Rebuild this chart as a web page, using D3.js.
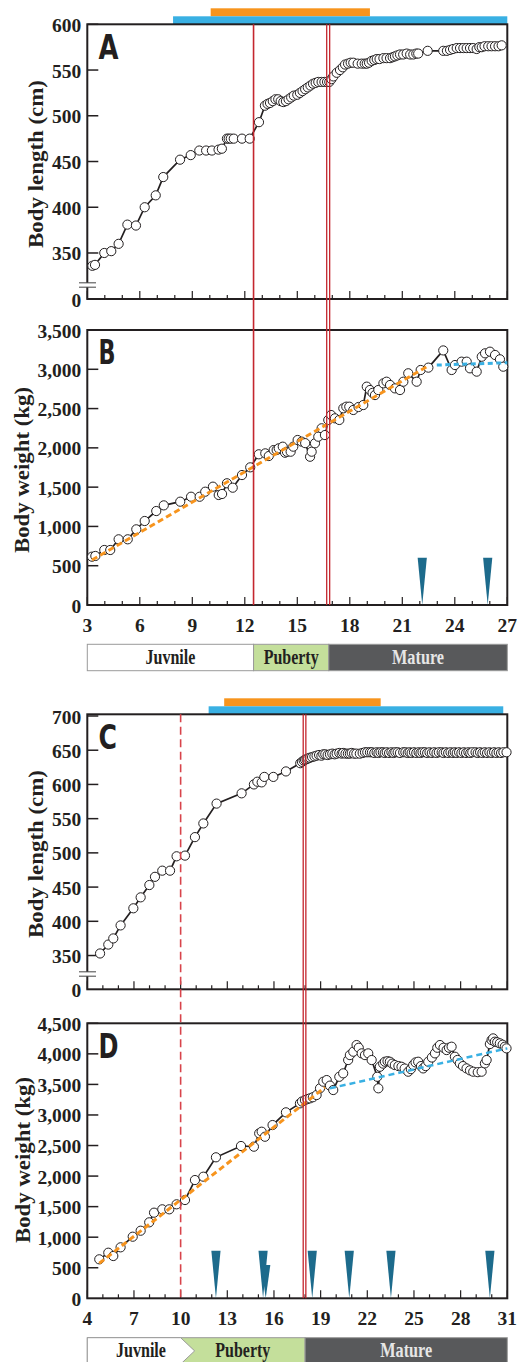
<!DOCTYPE html>
<html><head><meta charset="utf-8">
<script src="https://cdn.jsdelivr.net/npm/d3@7"></script>
<style>body{margin:0;background:#fff}svg{display:block}</style>
</head><body>
<svg id="chart" width="517" height="1362"></svg>
<script>
// ---------------- DATA ----------------
// Panel A: body length (cm) vs age (years)
const aAge = [3.29,3.44,3.97,4.37,4.79,5.29,5.78,6.28,6.91,7.34,8.30,8.91,9.40,9.79,10.12,10.50,10.69,10.98,11.08,11.20,11.37,11.84,12.28,12.81,13.15,13.30,13.44,13.60,13.75,13.91,14.05,14.20,14.35,14.50,14.65,14.80,15.00,15.15,15.30,15.45,15.60,15.75,15.90,16.05,16.20,16.39,16.55,16.70,16.83,16.95,17.06,17.25,17.44,17.60,17.73,17.90,18.05,18.20,18.45,18.68,18.85,18.97,19.10,19.25,19.40,19.54,19.70,19.92,20.10,20.30,20.45,20.58,20.72,20.87,21.05,21.25,21.45,21.63,21.80,21.91,22.45,23.34,23.55,23.73,23.90,24.11,24.30,24.49,24.68,24.87,25.05,25.25,25.40,25.54,25.70,25.91,26.10,26.30,26.50,26.68];
const aLength = [336,337,350,352,360,381,380,400,413,433,452,457,462,462,462,463,464,475,475,475,475,475,475,493,511,513,514,516,518,518,516,515,516,518,520,522,523,525,527,529,531,533,535,536,537,537,537,537,537,540,543,547,550,553,556,557,558,558,557,557,557,557,558,560,561,562,562,563,563,563,564,565,566,567,567,568,567,567,568,568,571,571,571,572,573,574,574,574,574,574,574,573,575,575,576,576,576,576,576,577];

// Panel B: body weight (kg) vs age
const bAge = [3.27,3.46,3.97,4.31,4.79,5.31,5.80,6.28,6.94,7.37,8.31,8.93,9.42,9.74,10.18,10.51,10.70,10.98,11.31,11.84,12.31,12.80,13.17,13.37,13.65,13.82,13.94,14.17,14.30,14.41,14.62,14.77,15.02,15.25,15.45,15.73,15.82,16.01,16.20,16.39,16.58,16.77,16.93,17.15,17.40,17.63,17.80,17.97,18.20,18.50,18.77,18.97,19.15,19.30,19.44,19.63,19.92,20.10,20.30,20.58,20.87,21.06,21.34,21.82,22.05,22.49,23.34,23.82,24.01,24.39,24.68,24.87,25.25,25.54,25.73,26.01,26.30,26.58,26.77];
const bWeight = [615,624,700,700,836,836,963,1069,1196,1268,1315,1378,1378,1442,1506,1400,1413,1549,1493,1654,1752,1918,1930,1896,1972,1972,1994,2015,1938,1950,1951,2015,2100,2079,2060,1887,1951,2058,2142,2249,2163,2355,2418,2376,2355,2503,2524,2524,2482,2520,2545,2779,2736,2700,2672,2736,2821,2842,2800,2757,2736,2842,2949,2842,2991,3021,3240,2991,3054,3097,3097,3012,2970,3160,3203,3224,3182,3127,3033];
const bOrangeAge = [3.27,22.5];
const bOrangeWeight = [573,3046];
const bBlueAge = [22.97,27];
const bBlueWeight = [3054,3083];
const bArrowAge = [22.14,25.88];
const bArrowTop = [600,600];

// Panel C: body length (cm) vs age
const cAge = [4.82,5.35,5.67,6.14,6.96,7.43,7.99,8.35,8.82,9.32,9.74,10.28,10.92,11.46,12.31,13.92,14.71,14.93,15.21,15.38,15.96,16.77,17.69,17.80,17.91,18.00,18.10,18.20,18.31,18.45,18.60,18.74,18.90,19.05,19.17,19.30,19.45,19.60,19.75,19.90,20.03,20.20,20.35,20.45,20.60,20.75,20.88,21.00,21.15,21.30,21.52,21.70,21.85,22.00,22.17,22.30,22.45,22.60,22.72,22.85,23.00,23.12,23.25,23.40,23.55,23.68,23.80,23.95,24.10,24.31,24.45,24.60,24.72,24.85,25.00,25.15,25.30,25.42,25.55,25.70,25.85,26.00,26.15,26.30,26.45,26.60,26.78,26.90,27.05,27.20,27.35,27.50,27.62,27.75,27.90,28.05,28.20,28.35,28.50,28.62,28.75,28.96,29.10,29.25,29.40,29.55,29.70,29.85,30.00,30.15,30.30,30.45,30.60,30.75,30.95];
const cLength = [353,366,375,394,419,435,453,465,474,474,495,496,523,543,572,587,600,604,603,611,611,619,631,633,635,636,637,638,639,640,641,642,643,642,644,644,643,644,645,644,645,646,645,646,645,645,645,646,645,645,645,646,647,647,647,647,646,647,646,647,647,646,647,646,647,646,647,647,646,647,647,646,647,646,647,646,647,646,647,647,646,647,646,647,646,647,647,646,647,646,647,646,647,646,647,646,647,646,647,646,647,647,646,647,646,647,646,647,646,647,646,647,646,647,647];

// Panel D: body weight (kg) vs age
const dAge = [4.77,5.35,5.67,6.14,6.92,7.43,7.98,8.29,8.82,9.27,9.74,10.28,10.92,11.46,12.27,13.88,14.71,15.05,15.21,15.42,15.91,16.77,17.67,17.80,17.99,18.15,18.31,18.50,18.74,18.96,19.17,19.39,19.60,19.81,20.20,20.45,20.77,20.88,21.10,21.31,21.45,21.64,21.85,22.06,22.28,22.64,22.71,22.81,23.02,23.13,23.30,23.45,23.60,23.77,24.00,24.20,24.40,24.63,24.80,24.95,25.10,25.27,25.45,25.59,25.75,25.92,26.15,26.35,26.50,26.67,26.90,27.10,27.25,27.42,27.63,27.80,27.95,28.15,28.38,28.60,28.81,29.10,29.35,29.56,29.67,29.88,29.99,30.09,30.20,30.35,30.52,30.70,30.84,30.95];
const dWeight = [638,746,692,834,1008,1106,1243,1401,1456,1456,1538,1608,1935,1990,2307,2492,2481,2699,2726,2644,2835,3043,3190,3220,3244,3260,3272,3290,3326,3436,3544,3571,3480,3408,3625,3681,3899,3980,4035,4144,4100,4008,3980,4008,3899,3625,3436,3789,3840,3871,3880,3871,3840,3817,3800,3789,3760,3708,3750,3817,3860,3871,3800,3762,3800,3871,3940,4008,4100,4144,4100,4062,4100,4117,3953,3900,3844,3800,3762,3730,3708,3700,3708,3844,3899,4160,4226,4253,4199,4190,4172,4150,4117,4090];
const dOrangeAge = [4.77,19.28];
const dOrangeWeight = [573,3452];
const dBlueAge = [19.6,31];
const dBlueWeight = [3436,4090];
const dArrowAge = [12.27,15.30,15.47,18.46,20.84,23.52,29.88];
const dArrowTop = [780,780,545,780,780,780,780];

// Event markers (ages)
const abRedSingle = [12.5];
const abRedDouble = [16.68,16.85];
const cdRedDashed = [10];
const cdRedDouble = [17.88,18.05];
// Top bars (age ranges)
const abOrangeBar = [10.05,19.15];
const abBlueBar = [7.9,27];
const cdOrangeBar = [12.8,22.86];
const cdBlueBar = [11.8,30.74];
// Stages
const stageNames = ["Juvnile","Puberty","Mature"];
const abStageStart = [3,12.5,16.8];
const abStageEnd = [12.5,16.8,27];
const cdStageStart = [4,10,18];
const cdStageEnd = [10,18,31];
// Tick labels
const yTicksA = [0,350,400,450,500,550,600];
const yTicksB = [0,500,1000,1500,2000,2500,3000,3500];
const yTicksC = [0,350,400,450,500,550,600,650,700];
const yTicksD = [0,500,1000,1500,2000,2500,3000,3500,4000,4500];
const xTicksAB = [3,6,9,12,15,18,21,24,27];
const xTicksCD = [4,7,10,13,16,19,22,25,28,31];

// ---------------- DRAW ----------------
const svg = d3.select("#chart");
const INK = "#231f20", RED = "#c4262e", ORANGE = "#f7941d", BLUE = "#39b0e3", TEAL = "#1d6b8c";
const SERIF = "'Liberation Serif','Times New Roman',serif";
const L = 87.3, R = 507.3;
const xAB = d3.scaleLinear().domain([3,27]).range([L,R]);
const xCD = d3.scaleLinear().domain([4,31]).range([L,R]);
const yA = d3.scaleLinear().domain([0,315,600]).range([299,285,24.3]);
const yB = d3.scaleLinear().domain([0,3500]).range([605,330]);
const yC = d3.scaleLinear().domain([0,323,700]).range([989.3,974,716]);
const yD = d3.scaleLinear().domain([0,4500]).range([1298.3,1023.3]);
const comma = d3.format(",");

function frame(top,bottom){
  svg.append("rect").attr("x",L).attr("y",top).attr("width",R-L).attr("height",bottom-top)
    .attr("fill","none").attr("stroke",INK).attr("stroke-width",2);
}
function yAxis(y, ticks, fmt, brk){
  const g = svg.append("g");
  g.selectAll("line").data(ticks.filter(t=>t>0)).join("line")
    .attr("x1",L).attr("x2",L+11).attr("y1",d=>y(d)).attr("y2",d=>y(d))
    .attr("stroke",INK).attr("stroke-width",1.5);
  g.selectAll("text").data(ticks).join("text")
    .attr("x",L-6).attr("y",d=>y(d)+7.5).attr("text-anchor","end")
    .attr("font-family",SERIF).attr("font-weight","bold").attr("font-size",19.5).attr("fill",INK)
    .text(d=>fmt(d));
  if(brk){
    const yb = y(brk);
    svg.append("rect").attr("x",L-2).attr("y",yb-2).attr("width",4).attr("height",4).attr("fill","#fff");
    [yb-2.2,yb+2.2].forEach(v=>svg.append("line").attr("x1",79).attr("x2",96).attr("y1",v).attr("y2",v)
      .attr("stroke","#555").attr("stroke-width",1.1));
  }
}
function xTicks(x, lo, hi, majors, bottom, labels){
  const g = svg.append("g");
  g.selectAll("line").data(d3.range(lo,hi+1)).join("line")
    .attr("x1",d=>x(d)).attr("x2",d=>x(d)).attr("y1",bottom)
    .attr("y2",d=>bottom-(majors.includes(d)?8:4)).attr("stroke",INK).attr("stroke-width",1.2);
  if(labels){
    g.selectAll("text").data(majors).join("text")
      .attr("x",d=>x(d)).attr("y",bottom+26.7).attr("text-anchor","middle")
      .attr("font-family",SERIF).attr("font-weight","bold").attr("font-size",19.5).attr("fill",INK)
      .text(d=>d);
  }
}
function series(x,y,ages,vals){
  const pts = ages.map((a,i)=>[a,vals[i]]);
  svg.append("path").datum(pts).attr("fill","none").attr("stroke",INK).attr("stroke-width",1.7)
    .attr("d",d3.line().x(d=>x(d[0])).y(d=>y(d[1])));
  svg.append("g").selectAll("circle").data(pts).join("circle")
    .attr("cx",d=>x(d[0])).attr("cy",d=>y(d[1])).attr("r",4.6)
    .attr("fill","#fff").attr("stroke",INK).attr("stroke-width",1);
}
function fit(x,y,ages,vals,color,dash,w){
  svg.append("path").datum(ages.map((a,i)=>[a,vals[i]])).attr("fill","none")
    .attr("stroke",color).attr("stroke-width",w).attr("stroke-dasharray",dash)
    .attr("d",d3.line().x(d=>x(d[0])).y(d=>y(d[1])));
}
function arrows(x,y,ages,tops){
  svg.append("g").selectAll("path").data(ages.map((a,i)=>[a,tops[i]])).join("path")
    .attr("fill",TEAL)
    .attr("d",d=>`M${x(d[0])-4.6},${y(d[1])}L${x(d[0])+4.6},${y(d[1])}L${x(d[0])},${y(0)}Z`);
}
function vlines(x, ages, top, bottom, dash, w, color){
  ages.forEach(a=>svg.append("line").attr("x1",x(a)).attr("x2",x(a)).attr("y1",top).attr("y2",bottom)
    .attr("stroke",color).attr("stroke-width",w).attr("stroke-dasharray",dash||null));
}
function topBars(x, orange, blue, top){
  svg.append("rect").attr("x",x(orange[0])).attr("y",top-16).attr("width",x(orange[1])-x(orange[0])).attr("height",8).attr("fill",ORANGE);
  svg.append("rect").attr("x",x(blue[0])).attr("y",top-8).attr("width",x(blue[1])-x(blue[0])).attr("height",8).attr("fill",BLUE);
}
function letter(t, top, w){
  svg.append("text").attr("x",98.5).attr("y",top+34.3).text(t)
    .attr("font-family","'Liberation Sans Narrow','DejaVu Sans Condensed','Liberation Sans',sans-serif")
    .attr("font-weight","bold").attr("font-size",34.5).attr("fill",INK)
    .attr("textLength",w).attr("lengthAdjust","spacingAndGlyphs");
}
function yTitle(t, cx, cy, len){
  svg.append("text").attr("transform",`translate(${cx},${cy}) rotate(-90)`)
    .attr("text-anchor","middle").attr("dominant-baseline","central")
    .attr("font-family",SERIF).attr("font-weight","bold").attr("font-size",20.5).attr("fill",INK)
    .attr("textLength",len).attr("lengthAdjust","spacingAndGlyphs").text(t);
}
const stageFill = ["#ffffff","#c4df9b","#58595b"];
const stageText = [INK, INK, "#e6e6e6"];
const stageLen = [50,55,52];
function stages(x, starts, ends, top, h, arrow){
  const g = svg.append("g");
  if(!arrow){
    g.selectAll("rect").data(stageNames).join("rect")
      .attr("x",(d,i)=>x(starts[i])).attr("y",top).attr("width",(d,i)=>x(ends[i])-x(starts[i])).attr("height",h)
      .attr("fill",(d,i)=>stageFill[i]).attr("stroke","#9a9a9a").attr("stroke-width",1);
    g.selectAll("text").data(stageNames).join("text")
      .attr("x",(d,i)=>(x(starts[i])+x(ends[i]))/2).attr("y",top+h/2+6.5).attr("text-anchor","middle")
      .attr("font-family",SERIF).attr("font-weight","bold").attr("font-size",20)
      .attr("fill",(d,i)=>stageText[i]).attr("textLength",(d,i)=>stageLen[i]).attr("lengthAdjust","spacingAndGlyphs")
      .text(d=>d);
  } else {
    const x0=x(starts[0]), x1=x(ends[0]), x2=x(ends[1]), x3=x(ends[2]), tip=x1+14, mid=top+h/2;
    g.append("rect").attr("x",x0).attr("y",top).attr("width",x2-x0).attr("height",h).attr("fill",stageFill[1]).attr("stroke","#9a9a9a");
    g.append("rect").attr("x",x2).attr("y",top).attr("width",x3-x2).attr("height",h).attr("fill",stageFill[2]).attr("stroke","#9a9a9a");
    g.append("path").attr("d",`M${x0},${top}L${x1},${top}L${tip},${mid}L${x1},${top+h}L${x0},${top+h}Z`)
      .attr("fill","#fff").attr("stroke","#9a9a9a");
    const cx = [(x0+tip)/2,(x1+x2)/2,(x2+x3)/2];
    g.selectAll("text").data(stageNames).join("text")
      .attr("x",(d,i)=>cx[i]).attr("y",mid+6.5).attr("text-anchor","middle")
      .attr("font-family",SERIF).attr("font-weight","bold").attr("font-size",20)
      .attr("fill",(d,i)=>stageText[i]).attr("textLength",(d,i)=>stageLen[i]).attr("lengthAdjust","spacingAndGlyphs")
      .text(d=>d);
  }
}

// Panel A
topBars(xAB, abOrangeBar, abBlueBar, 24.3);
frame(24.3,299);
yAxis(yA, yTicksA, d=>d, 315);
xTicks(xAB, 3, 27, xTicksAB, 299, false);
series(xAB, yA, aAge, aLength);
letter("A", 24.3, 20);
yTitle("Body length (cm)", 35.5, 164, 168);

// Panel B
frame(330,605);
yAxis(yB, yTicksB, comma, null);
xTicks(xAB, 3, 27, xTicksAB, 605, true);
series(xAB, yB, bAge, bWeight);
fit(xAB, yB, bOrangeAge, bOrangeWeight, ORANGE, "6,3.5", 3);
fit(xAB, yB, bBlueAge, bBlueWeight, BLUE, "5,3.5", 3);
arrows(xAB, yB, bArrowAge, bArrowTop);
letter("B", 330, 17);
yTitle("Body weight (kg)", 22, 470, 166);
stages(xAB, abStageStart, abStageEnd, 644.3, 26.4, false);

// A/B event lines
vlines(xAB, abRedSingle, 24.3, 605, null, 1.6, RED);
vlines(xAB, abRedDouble, 24.3, 605, null, 1.3, RED);

// Panel C
topBars(xCD, cdOrangeBar, cdBlueBar, 714.3);
frame(714.3,989.3);
yAxis(yC, yTicksC, d=>d, 323);
xTicks(xCD, 4, 31, xTicksCD, 989.3, false);
series(xCD, yC, cAge, cLength);
letter("C", 714.3, 18.5);
yTitle("Body length (cm)", 35.5, 854, 168);

// Panel D
frame(1023.3,1298.3);
yAxis(yD, yTicksD, comma, null);
xTicks(xCD, 4, 31, xTicksCD, 1298.3, true);
series(xCD, yD, dAge, dWeight);
fit(xCD, yD, dOrangeAge, dOrangeWeight, ORANGE, "6,3.5", 3);
fit(xCD, yD, dBlueAge, dBlueWeight, BLUE, "6,4", 2.5);
arrows(xCD, yD, dArrowAge, dArrowTop);
letter("D", 1023.3, 20);
yTitle("Body weight (kg)", 22.5, 1160, 166);
stages(xCD, cdStageStart, cdStageEnd, 1337.7, 26.4, true);

// C/D event lines
vlines(xCD, cdRedDashed, 714.3, 1298.3, "8,4.5", 1.6, "#d8434a");
vlines(xCD, cdRedDouble, 714.3, 1298.3, null, 1.3, RED);
</script>
</body></html>
